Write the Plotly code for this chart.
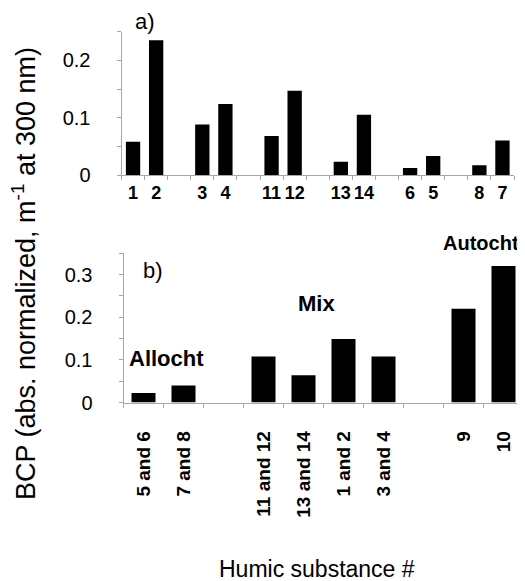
import plotly.graph_objects as go

# ---- data ----
a_groups = [["1", "2"], ["3", "4"], ["11", "12"], ["13", "14"], ["6", "5"], ["8", "7"]]
a_values = [[0.058, 0.235], [0.088, 0.124], [0.068, 0.147], [0.023, 0.105], [0.012, 0.033], [0.017, 0.060]]

b_groups = [["5 and 6", "7 and 8"], ["11 and 12", "13 and 14", "1 and 2", "3 and 4"], ["9", "10"]]
b_values = [[0.022, 0.040], [0.108, 0.064, 0.149, 0.108], [0.220, 0.320]]
b_group_names = ["Allocht", "Mix", "Autocht"]


def build(groups, values):
    cats, vals = [], []
    for i, (g, v) in enumerate(zip(groups, values)):
        if i > 0:
            cats.append(" " * i)
            vals.append(None)
        cats.extend(g)
        vals.extend(v)
    return cats, vals


a_cats, a_vals = build(a_groups, a_values)
b_cats, b_vals = build(b_groups, b_values)

# page is 525x581; the html body has an 8px margin, so the figure is offset by 8px
OFF = 8
W, H = 525 - OFF, 581 - OFF
FONT = "Liberation Sans, Arial, sans-serif"
AX = "#a6a6a6"


def px(x):
    return (x - OFF) / W


def py(y):
    return (H - (y - OFF)) / H


fig = go.Figure()
fig.add_trace(go.Bar(x=a_cats, y=a_vals, marker_color="black", marker_line_width=0,
                     width=0.62, xaxis="x", yaxis="y", showlegend=False))
fig.add_trace(go.Bar(x=b_cats, y=b_vals, marker_color="black", marker_line_width=0,
                     width=0.6, xaxis="x2", yaxis="y2", showlegend=False))

common_y = dict(showline=True, linecolor=AX, linewidth=1, ticks="outside", ticklen=4,
                tickcolor=AX, dtick=0.1, showgrid=False, zeroline=False,
                minor=dict(dtick=0.05, ticks="outside", ticklen=4, tickcolor=AX, showgrid=False),
                tickfont=dict(family=FONT, size=20, color="black"), ticklabelstandoff=22,
                automargin=False)
common_x = dict(type="category", showline=True, linecolor=AX, linewidth=1, ticks="outside",
                ticklen=4, tickcolor=AX, tickson="boundaries", showgrid=False, automargin=False)

fig.update_layout(
    width=W, height=H, margin=dict(l=0, r=0, t=0, b=0),
    paper_bgcolor="white", plot_bgcolor="white",
    xaxis=dict(common_x, domain=[px(121.5), px(514)], anchor="y", tickangle=0,
               categoryorder="array", categoryarray=a_cats,
               tickfont=dict(family=FONT, size=18, color="black", weight="bold"),
               ticklabelstandoff=1),
    yaxis=dict(common_y, domain=[py(175), py(31.7)], range=[0, 0.25], anchor="x"),
    xaxis2=dict(common_x, domain=[px(123.5), px(523.5)], anchor="y2",
                categoryorder="array", categoryarray=b_cats, tickangle=-90,
                tickfont=dict(family=FONT, size=19, color="black", weight="bold"),
                ticklabelstandoff=20),
    yaxis2=dict(common_y, domain=[py(402.5), py(253.3)], range=[0, 0.35], anchor="x2"),
)

ann = []
ann.append(dict(text="BCP (abs. normalized, m<sup>-1</sup> at 300 nm)", x=px(24), y=py(274),
                textangle=-90, font=dict(family=FONT, size=27, color="black")))
ann.append(dict(text="Humic substance #", x=px(316.7), y=py(569),
                font=dict(family=FONT, size=23, color="black")))
ann.append(dict(text="a)", x=px(145), y=py(21), font=dict(family=FONT, size=22, color="black")))
ann.append(dict(text="b)", x=px(153), y=py(270), font=dict(family=FONT, size=22, color="black")))
for name, (xx, yy), sz in zip(b_group_names, [(166, 359), (316, 303), (481, 243)], [22, 22, 20]):
    ann.append(dict(text="<b>%s</b>" % name, x=px(xx), y=py(yy),
                    font=dict(family=FONT, size=sz, color="black")))
for a in ann:
    a.update(xref="paper", yref="paper", showarrow=False, xanchor="center", yanchor="middle")
fig.update_layout(annotations=ann)

fig.write_html("out.html")
